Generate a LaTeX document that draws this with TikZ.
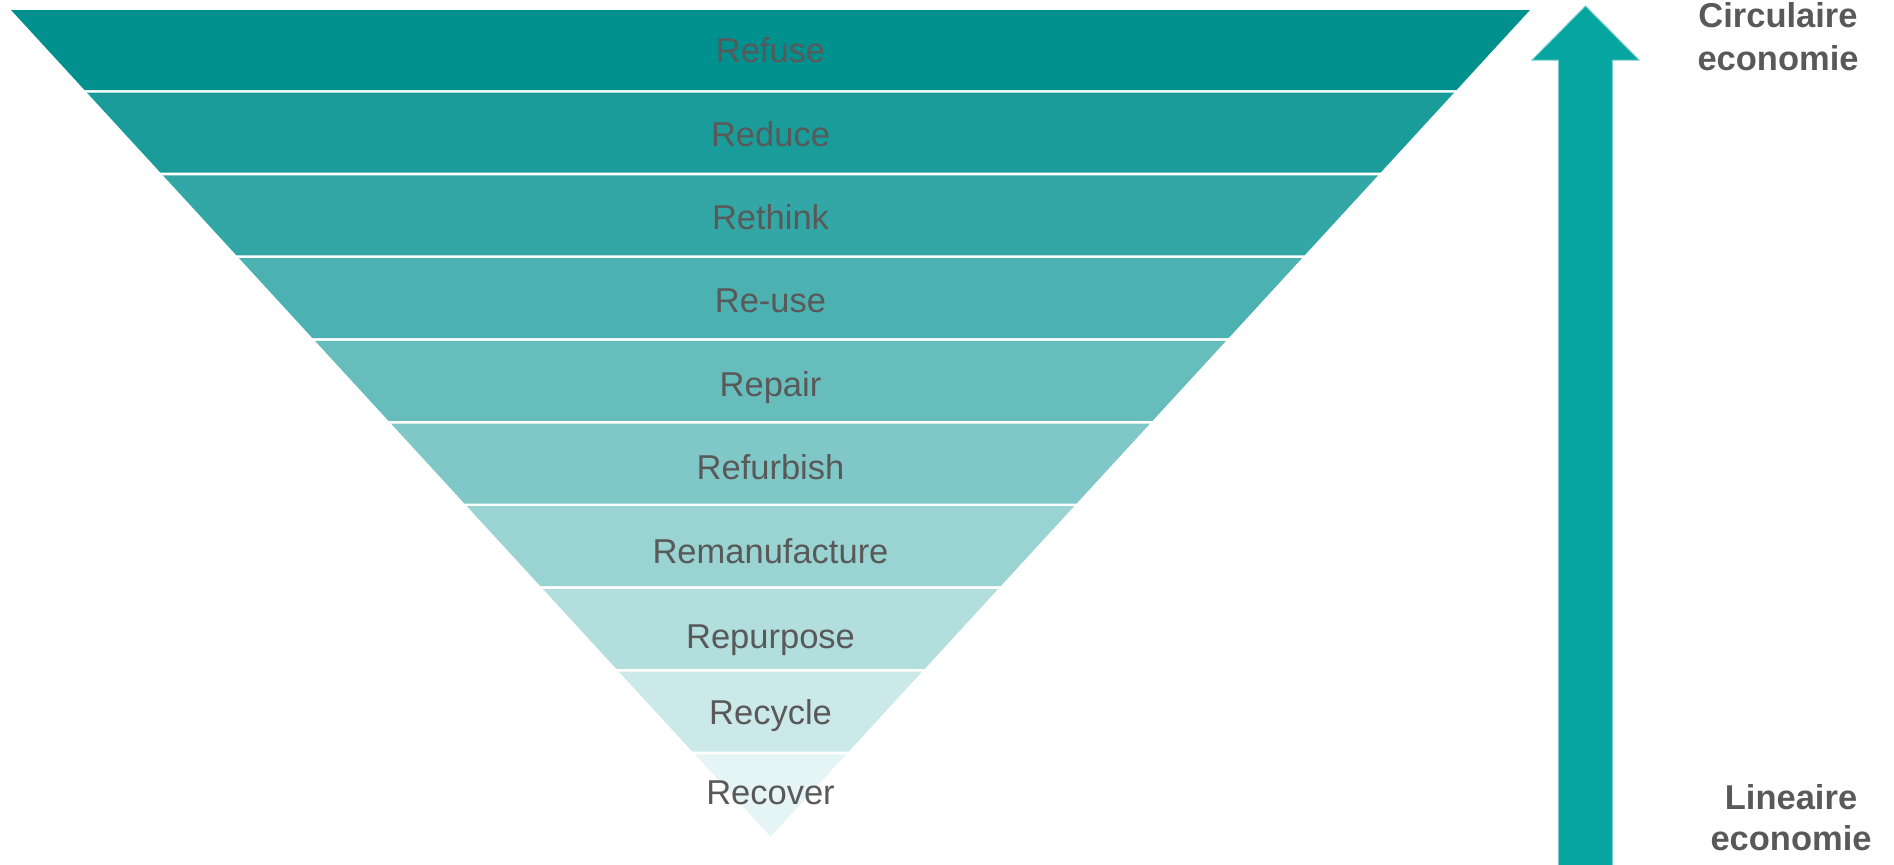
\documentclass[tikz,border=0pt]{standalone}
\usepackage{fontspec}
\setmainfont{Liberation Sans}
\definecolor{pyr}{RGB}{0,145,143}
\definecolor{arrc}{RGB}{6,165,160}
\definecolor{txt}{RGB}{89,89,89}
\begin{document}
\begin{tikzpicture}[x=0.5bp,y=-0.5bp,
  lbl/.style={font=\fontsize{17.25bp}{20bp}\selectfont, text=txt, anchor=base, inner sep=0pt},
  side/.style={lbl, font=\fontsize{17.25bp}{20bp}\selectfont\bfseries}]
\useasboundingbox (0,0) rectangle (1894,864);
\foreach \k/\lab/\bl in {0/Refuse/62.7,1/Reduce/146,2/Rethink/229.3,3/Re-use/312.7,4/Repair/396.7,5/Refurbish/479.3,6/Remanufacture/563.3,7/Repurpose/648.3,8/Recycle/724.3,9/Recover/804} {
  \pgfmathsetmacro\ytop{10+82.7*\k}
  \pgfmathsetmacro\ybot{\k==9 ? 836.7 : 10+82.7*(\k+1)-2.7}
  \pgfmathsetmacro\hwt{0.9187*(836.7-\ytop)}
  \pgfmathsetmacro\hwb{0.9187*(836.7-\ybot)}
  \pgfmathtruncatemacro\tint{100-10*\k}
  \fill[pyr!\tint!white] (770.5-\hwt,\ytop) -- (770.5+\hwt,\ytop) -- (770.5+\hwb,\ybot) -- (770.5-\hwb,\ybot) -- cycle;
  \node[lbl] (l\k) at (770.5,\bl) {\lab};
}
\draw[fill=arrc, draw=arrc!55!white, line width=0.5] (1585.5,6) -- (1639,60) -- (1612.3,60) -- (1612.3,866) -- (1558.3,866) -- (1558.3,60) -- (1532,60) -- cycle;
\node[side] (c1) at (1778,27) {Circulaire};
\node[side] (c2) at (1778,70.5) {economie};
\node[side] (n1) at (1791,809) {Lineaire};
\node[side] (n2) at (1791,850) {economie};
\end{tikzpicture}
\end{document}
